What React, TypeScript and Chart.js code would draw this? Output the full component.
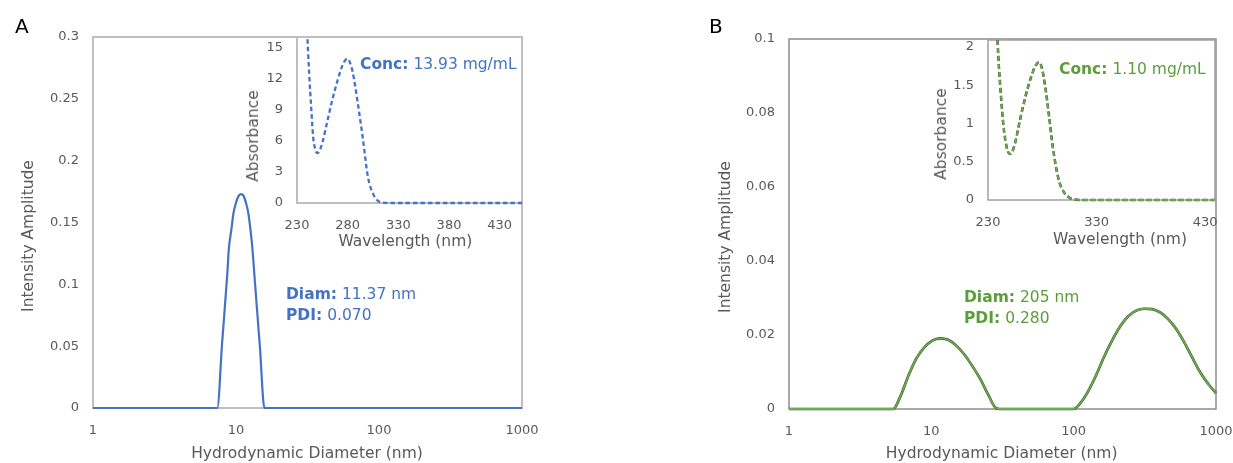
import React, { useEffect, useRef } from 'react';
import { Chart, registerables } from 'chart.js';

Chart.register(...registerables);

const FONT = 'DejaVu Sans';
const AXIS_COLOR = '#595959';
const BLUE = '#4472C4';
const GREEN = '#6aae4b';
const GREEN_DARK = '#2f3a2a';
const GREEN_TEXT = '#5a9e3a';

// ---- Panel A: DLS intensity distribution ----
const DIAM_A = [1, 7.4, 8.0, 8.7, 8.9, 9.3, 9.6, 10.0, 10.4, 10.8, 11.3, 11.7, 12.2, 12.6, 13.0, 13.6, 14.7, 15.8, 1000];
const INT_A = [0, 0, 0.053, 0.109, 0.128, 0.145, 0.1575, 0.166, 0.1713, 0.173, 0.1715, 0.1665, 0.1575, 0.145, 0.13, 0.1, 0.049, 0, 0];
// ---- Panel A inset: UV absorbance ----
const WL_A = [240, 242, 244, 246, 248, 250, 252, 255, 260, 265, 270, 275, 278, 280, 282, 285, 290, 295, 300, 305, 310, 315, 320, 350, 400, 452];
const ABS_A = [16.5, 12.5, 9.2, 6.3, 5.2, 4.8, 5.0, 5.8, 7.9, 10.0, 11.8, 13.3, 13.8, 13.9, 13.6, 12.6, 9.6, 6.2, 2.5, 0.9, 0.2, 0.03, 0, 0, 0, 0];

// ---- Panel B: DLS intensity distribution ----
const DIAM_B = [1, 5.4, 6.0, 6.9, 7.8, 8.9, 10.1, 11.5, 13.1, 14.9, 17, 19.3, 22, 25, 28, 30, 100, 111, 126, 144, 163, 186, 212, 241, 275, 312, 356, 405, 461, 524, 597, 679, 773, 880, 1000];
const INT_B = [0, 0, 0.003, 0.009, 0.0135, 0.0166, 0.0184, 0.0191, 0.0187, 0.0172, 0.0148, 0.0118, 0.0082, 0.004, 0.0005, 0, 0, 0.0015, 0.0047, 0.0092, 0.014, 0.0185, 0.0223, 0.025, 0.0266, 0.0271, 0.027, 0.0261, 0.0243, 0.0217, 0.0181, 0.014, 0.01, 0.0068, 0.0043];
// ---- Panel B inset: UV absorbance ----
const WL_B = [238, 240, 242, 244, 246, 248, 250, 252, 255, 260, 265, 270, 274, 277, 280, 283, 286, 290, 295, 300, 305, 310, 320, 350, 400, 439];
const ABS_B = [2.3, 1.75, 1.35, 1.0, 0.78, 0.65, 0.6, 0.62, 0.75, 1.08, 1.38, 1.62, 1.76, 1.8, 1.7, 1.45, 1.12, 0.66, 0.27, 0.1, 0.03, 0.005, 0, 0, 0, 0];

// ---- Tick labels ----
const DIAM_TICKS = [1, 10, 100, 1000];
const INT_TICKS_A = [0, 0.05, 0.1, 0.15, 0.2, 0.25, 0.3];
const INT_TICKS_B = [0, 0.02, 0.04, 0.06, 0.08, 0.1];
const WL_TICKS_A = [230, 280, 330, 380, 430];
const ABS_TICKS_A = [0, 3, 6, 9, 12, 15];
const WL_TICKS_B = [230, 330, 430];
const ABS_TICKS_B = [0, 0.5, 1, 1.5, 2];

const toXY = (xs: number[], ys: number[]) => xs.map((x, i) => ({ x, y: ys[i] }));

type Box = { x: number; y: number; w: number; h: number };
type Plot = { l: number; t: number; r: number; b: number };

const framePlugin = (color: string, width: number) => ({
  id: 'frame',
  beforeDatasetsDraw(chart: any) {
    const { ctx, chartArea: a } = chart;
    ctx.save();
    ctx.strokeStyle = color;
    ctx.lineWidth = width;
    ctx.strokeRect(a.left, a.top, a.right - a.left, a.bottom - a.top);
    ctx.restore();
  },
});

function buildConfig(spec: any) {
  const c: Box = spec.canvas;
  const p: Plot = spec.plot;
  const tickFont = { family: FONT, size: 13 };
  return {
    type: 'line',
    data: { datasets: spec.datasets },
    options: {
      animation: false,
      responsive: false,
      maintainAspectRatio: false,
      events: [],
      layout: { padding: { left: 0, top: p.t - c.y, right: c.x + c.w - p.r, bottom: 0 } },
      plugins: { legend: { display: false }, tooltip: { enabled: false }, title: { display: false } },
      elements: { point: { radius: 0 } },
      scales: {
        x: {
          type: spec.xType,
          min: spec.xMin,
          max: spec.xMax,
          afterBuildTicks: (s: any) => {
            s.ticks = spec.xTicks.map((v: number) => ({ value: v }));
          },
          afterFit: (s: any) => {
            s.height = c.y + c.h - p.b;
          },
          grid: { display: true, drawOnChartArea: false, drawTicks: true, tickLength: 15, tickColor: 'rgba(0,0,0,0)' },
          border: { display: false },
          ticks: { padding: 0, color: AXIS_COLOR, font: tickFont, maxRotation: 0, minRotation: 0, autoSkip: false, callback: (v: any) => String(v) },
        },
        y: {
          type: 'linear',
          min: spec.yMin,
          max: spec.yMax,
          afterBuildTicks: (s: any) => {
            s.ticks = spec.yTicks.map((v: number) => ({ value: v }));
          },
          afterFit: (s: any) => {
            s.width = p.l - c.x;
          },
          grid: { display: true, drawOnChartArea: false, drawTicks: true, tickLength: 14, tickColor: 'rgba(0,0,0,0)' },
          border: { display: false },
          ticks: { padding: 0, color: AXIS_COLOR, font: tickFont, autoSkip: false, callback: (v: any) => String(v) },
        },
      },
    },
    plugins: [framePlugin(spec.frameColor, spec.frameWidth)],
  };
}

function ChartCanvas({ spec }: { spec: any }) {
  const ref = useRef<HTMLCanvasElement | null>(null);
  useEffect(() => {
    if (!ref.current) return;
    const chart = new Chart(ref.current, buildConfig(spec) as any);
    return () => chart.destroy();
  }, []);
  const c: Box = spec.canvas;
  return (
    <canvas
      ref={ref}
      width={c.w}
      height={c.h}
      style={{ position: 'absolute', left: c.x, top: c.y, width: c.w, height: c.h }}
    />
  );
}

const smooth = { pointRadius: 0, fill: false, cubicInterpolationMode: 'monotone' };

const SPEC_MAIN_A = {
  canvas: { x: 0, y: 0, w: 560, h: 463 },
  plot: { l: 93, t: 37, r: 522, b: 408 },
  xType: 'logarithmic', xMin: 1, xMax: 1000, xTicks: DIAM_TICKS,
  yMin: 0, yMax: 0.3, yTicks: INT_TICKS_A,
  frameColor: '#bfbfbf', frameWidth: 2,
  datasets: [
    { ...smooth, data: toXY(DIAM_A, INT_A), borderColor: BLUE, borderWidth: 2.2, borderJoinStyle: 'round', clip: { left: 0, top: 0, right: 3, bottom: 3 } },
  ],
};

const SPEC_INSET_A = {
  canvas: { x: 230, y: 8, w: 300, h: 252 },
  plot: { l: 297, t: 37, r: 522, b: 203 },
  xType: 'linear', xMin: 230, xMax: 452, xTicks: WL_TICKS_A,
  yMin: 0, yMax: 16, yTicks: ABS_TICKS_A,
  frameColor: '#bfbfbf', frameWidth: 2,
  datasets: [
    { ...smooth, data: toXY(WL_A, ABS_A), borderColor: BLUE, borderWidth: 2.3, borderDash: [4.5, 3], clip: { left: 0, top: 0, right: 0, bottom: 3 } },
  ],
};

const SPEC_MAIN_B = {
  canvas: { x: 700, y: 0, w: 533, h: 463 },
  plot: { l: 789, t: 39, r: 1216, b: 409 },
  xType: 'logarithmic', xMin: 1, xMax: 1000, xTicks: DIAM_TICKS,
  yMin: 0, yMax: 0.1, yTicks: INT_TICKS_B,
  frameColor: '#8c8c8c', frameWidth: 1.5,
  datasets: [
    { ...smooth, data: toXY(DIAM_B, INT_B), borderColor: GREEN, borderWidth: 1.8, order: 0, clip: { left: 0, top: 0, right: 3, bottom: 3 } },
    { ...smooth, data: toXY(DIAM_B, INT_B), borderColor: GREEN_DARK, borderWidth: 2.6, order: 1, clip: { left: 0, top: 0, right: 3, bottom: 3 } },
  ],
};

const SPEC_INSET_B = {
  canvas: { x: 930, y: 8, w: 303, h: 252 },
  plot: { l: 988, t: 40, r: 1215, b: 200 },
  xType: 'linear', xMin: 230, xMax: 439, xTicks: WL_TICKS_B,
  yMin: 0, yMax: 2.09, yTicks: ABS_TICKS_B,
  frameColor: '#a0a0a0', frameWidth: 1.5,
  datasets: [
    { ...smooth, data: toXY(WL_B, ABS_B), borderColor: GREEN, borderWidth: 1.8, borderDash: [5, 3], order: 0, clip: { left: 0, top: 0, right: 0, bottom: 3 } },
    { ...smooth, data: toXY(WL_B, ABS_B), borderColor: GREEN_DARK, borderWidth: 2.5, borderDash: [5, 3], order: 1, clip: { left: 0, top: 0, right: 0, bottom: 3 } },
  ],
};

const TITLE_SIZE = 15.5;

function HTitle({ cx, cy, text }: { cx: number; cy: number; text: string }) {
  return (
    <div
      style={{
        position: 'absolute', left: cx, top: cy - 9.8, transform: 'translateX(-50%)',
        whiteSpace: 'nowrap', fontFamily: FONT, fontSize: TITLE_SIZE, lineHeight: '18px', color: AXIS_COLOR,
      }}
    >
      {text}
    </div>
  );
}

function VTitle({ cx, cy, text }: { cx: number; cy: number; text: string }) {
  return (
    <div style={{ position: 'absolute', left: cx, top: cy, width: 0, height: 0 }}>
      <span
        style={{
          position: 'absolute', left: 0, top: 0, transform: 'translate(-50%, -50%) rotate(-90deg)',
          whiteSpace: 'nowrap', fontFamily: FONT, fontSize: TITLE_SIZE, lineHeight: '18px', color: AXIS_COLOR,
        }}
      >
        {text}
      </span>
    </div>
  );
}

function Note({ left, baseline, bold, rest, color }: { left: number; baseline: number; bold: string; rest: string; color: string }) {
  return (
    <div
      style={{
        position: 'absolute', left, top: baseline - 14.4, whiteSpace: 'nowrap',
        fontFamily: FONT, fontSize: TITLE_SIZE, lineHeight: '18px', color,
      }}
    >
      <b>{bold}</b>
      {rest}
    </div>
  );
}

function PanelLetter({ left, text }: { left: number; text: string }) {
  return (
    <div style={{ position: 'absolute', left, top: 16, fontFamily: FONT, fontSize: 20, lineHeight: '20px', color: '#000' }}>
      {text}
    </div>
  );
}

export default function App() {
  return (
    <div style={{ position: 'fixed', left: 0, top: 0, width: 1233, height: 463, background: '#fff', overflow: 'hidden' }}>
      <ChartCanvas spec={SPEC_MAIN_A} />
      <ChartCanvas spec={SPEC_INSET_A} />
      <ChartCanvas spec={SPEC_MAIN_B} />
      <ChartCanvas spec={SPEC_INSET_B} />

      <PanelLetter left={15} text="A" />
      <PanelLetter left={709} text="B" />

      <VTitle cx={28.3} cy={236} text="Intensity Amplitude" />
      <HTitle cx={307} cy={453.4} text="Hydrodynamic Diameter (nm)" />
      <VTitle cx={253.3} cy={136} text="Absorbance" />
      <HTitle cx={405.4} cy={241.7} text="Wavelength (nm)" />

      <VTitle cx={725} cy={236.7} text="Intensity Amplitude" />
      <HTitle cx={1001.7} cy={453.4} text="Hydrodynamic Diameter (nm)" />
      <VTitle cx={940.7} cy={134} text="Absorbance" />
      <HTitle cx={1120} cy={240} text="Wavelength (nm)" />

      <Note left={360} baseline={69.6} bold="Conc:" rest=" 13.93 mg/mL" color={BLUE} />
      <Note left={286} baseline={299} bold="Diam:" rest=" 11.37 nm" color={BLUE} />
      <Note left={286} baseline={320.3} bold="PDI:" rest=" 0.070" color={BLUE} />

      <Note left={1059} baseline={74.6} bold="Conc:" rest=" 1.10 mg/mL" color={GREEN_TEXT} />
      <Note left={964} baseline={302} bold="Diam:" rest=" 205 nm" color={GREEN_TEXT} />
      <Note left={964} baseline={323} bold="PDI:" rest=" 0.280" color={GREEN_TEXT} />
    </div>
  );
}
